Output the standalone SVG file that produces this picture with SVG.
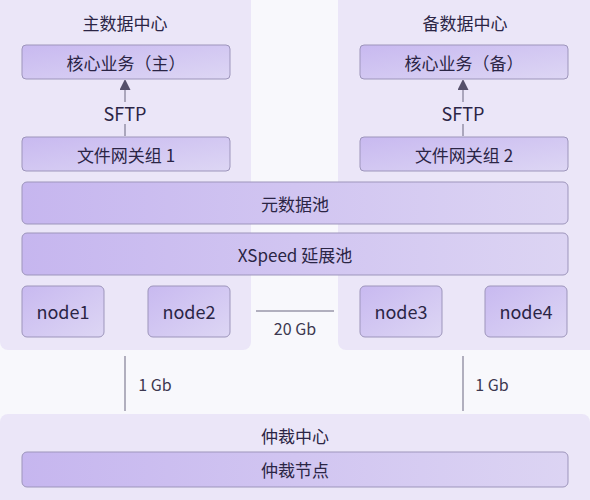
<svg xmlns="http://www.w3.org/2000/svg" width="590" height="500" viewBox="0 0 590 500">
<defs>
<linearGradient id="box" x1="0" y1="0" x2="1" y2="1">
<stop offset="0" stop-color="#c8b9f0"/>
<stop offset="1" stop-color="#ddd6f4"/>
</linearGradient>
<linearGradient id="wide" x1="0" y1="0" x2="1" y2="0">
<stop offset="0" stop-color="#c6b6ef"/>
<stop offset="1" stop-color="#dcd4f3"/>
</linearGradient>
<marker id="arr" markerWidth="10" markerHeight="11" refX="5" refY="5.5" orient="auto" markerUnits="userSpaceOnUse">
<path d="M0,0 L11,5.5 L0,11 Z" fill="#55506a"/>
</marker>
<style>
.panel{fill:#ebe6f8}
.bx{fill:url(#box);stroke:#9d95bb;stroke-width:1}
.wb{fill:url(#wide);stroke:#9d95bb;stroke-width:1}
text{font-family:"Noto Sans CJK SC","Noto Sans",sans-serif;fill:#2b2545;text-anchor:middle;dominant-baseline:central}
.t{font-size:17px}
.l{font-size:18px}
.s{font-size:16px;fill:#3d3850}
.ln{stroke:#6b6680;stroke-width:1;fill:none}
</style>
</defs>
<rect width="590" height="500" fill="#f8f8fc"/>
<g id="main-dc">
<rect class="panel" x="0" y="-8" width="251" height="358" rx="8"/>
<text class="t" x="125" y="22">主数据中心</text>
</g>
<g id="backup-dc">
<rect class="panel" x="338" y="-8" width="260" height="358" rx="8"/>
<text class="t" x="465" y="22">备数据中心</text>
</g>
<g id="arb-dc">
<rect class="panel" x="0" y="414" width="590" height="94" rx="8"/>
<text class="t" x="295" y="435">仲裁中心</text>
</g>
<g id="core-main"><rect class="bx" x="22" y="45" width="208" height="34" rx="4"/><text class="t" x="126" y="62">核心业务（主）</text></g>
<g id="core-backup"><rect class="bx" x="360" y="45" width="208" height="34" rx="4"/><text class="t" x="464" y="62">核心业务（备）</text></g>
<g id="gw1"><rect class="bx" x="22" y="137" width="208" height="34" rx="4"/><text class="t" x="126" y="154">文件网关组 1</text></g>
<g id="gw2"><rect class="bx" x="360" y="137" width="208" height="34" rx="4"/><text class="t" x="464" y="154">文件网关组 2</text></g>
<g id="meta"><rect class="wb" x="22" y="182" width="546" height="42" rx="5"/><text class="t" x="295" y="203">元数据池</text></g>
<g id="xspeed"><rect class="wb" x="22" y="233" width="546" height="42" rx="5"/><text class="t" x="295" y="254">XSpeed 延展池</text></g>
<g id="node1"><rect class="bx" x="22" y="286" width="82" height="51" rx="5"/><text class="l" x="63" y="311">node1</text></g>
<g id="node2"><rect class="bx" x="148" y="286" width="82" height="51" rx="5"/><text class="l" x="189" y="311">node2</text></g>
<g id="node3"><rect class="bx" x="360" y="286" width="82" height="51" rx="5"/><text class="l" x="401" y="311">node3</text></g>
<g id="node4"><rect class="bx" x="485" y="286" width="82" height="51" rx="5"/><text class="l" x="526" y="311">node4</text></g>
<g id="arb-node"><rect class="wb" x="22" y="452" width="546" height="35" rx="5"/><text class="t" x="295" y="469">仲裁节点</text></g>
<g id="connectors">
<path class="ln" d="M125 136 V124 M125 102 V85" marker-end="url(#arr)"/>
<text class="l" x="125" y="113">SFTP</text>
<path class="ln" d="M463 136 V124 M463 102 V85" marker-end="url(#arr)"/>
<text class="l" x="463" y="113">SFTP</text>
<line class="ln" x1="256" y1="311" x2="334" y2="311"/>
<text class="s" x="295" y="328">20 Gb</text>
<line class="ln" x1="125" y1="356" x2="125" y2="411"/>
<text class="s" x="155" y="384">1 Gb</text>
<line class="ln" x1="463" y1="356" x2="463" y2="411"/>
<text class="s" x="492" y="384">1 Gb</text>
</g>
</svg>
